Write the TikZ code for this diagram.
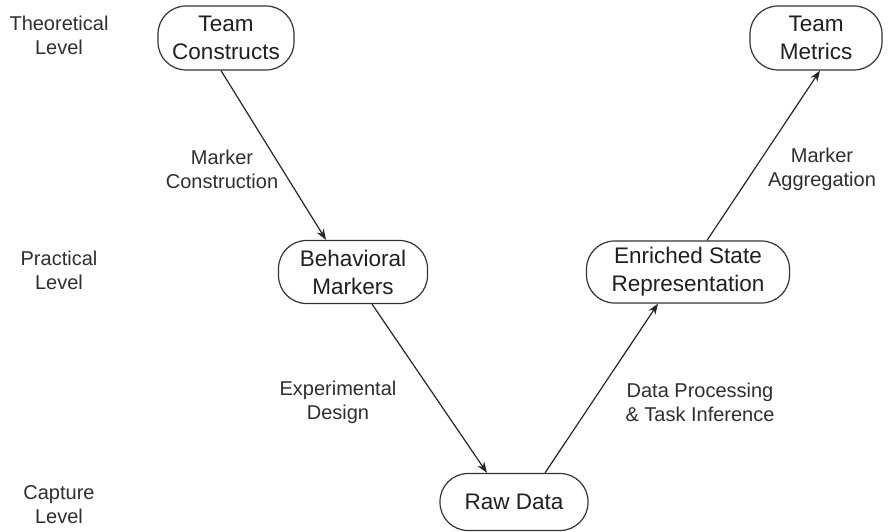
\documentclass[tikz,border=0pt]{standalone}
\usepackage{fontspec}
\setmainfont{Liberation Sans}
\usetikzlibrary{arrows.meta}
\usetikzlibrary{positioning}

\begin{document}
\begin{tikzpicture}[x=1pt,y=-1pt,
    stage/.style={draw=black!80, line width=1.2pt, rounded corners=28pt,
                  align=center, inner sep=0pt, text=black!88,
                  font=\fontsize{22.5}{28}\selectfont},
    note/.style={align=center, text=black!82, font=\fontsize{20}{24}\selectfont},
    flow/.style={draw=black!85, line width=1.2pt, -{Stealth[length=11pt,width=8pt]}}]
	\useasboundingbox (0,0) rectangle (888,532);

	% levels down the left side
	\node[note] (theory) at (59,35) {Theoretical\\Level};
	\node[note] (practice) at (59,270) {Practical\\Level};
	\node[note] (capture) at (59,505) {Capture\\Level};

	% the V of stages
	\node[stage, minimum width=136pt, minimum height=64pt] (tc) at (226,38) {Team\\Constructs};
	\node[stage, minimum width=132pt, minimum height=64pt] (tm) at (816,38) {Team\\Metrics};
	\node[stage, minimum width=149pt, minimum height=63pt] (bm) at (353,272) {Behavioral\\Markers};
	\node[stage, minimum width=203pt, minimum height=62pt] (es) at (688,272) {Enriched State\\Representation};
	\node[stage, minimum width=148pt, minimum height=57pt] (rd) at (514,502) {Raw Data};

	\draw[flow] ([xshift=-5pt]tc.south) -- ([xshift=-27pt]bm.north);
	\draw[flow] ([xshift=19pt]bm.south) -- ([xshift=-27pt]rd.north);
	\draw[flow] ([xshift=31pt]rd.north) -- ([xshift=-30pt]es.south);
	\draw[flow] ([xshift=19pt]es.north) -- ([xshift=4pt]tm.south);

	% what each step does
	\node[note] (construct) at (222,169) {Marker\\Construction};
	\node[note] (design) at (338,402) {Experimental\\Design};
	\node[note] (process) at (700,402) {Data Processing\\\& Task Inference};
	\node[note] (aggregate) at (822,169) {Marker\\Aggregation};
\end{tikzpicture}
\end{document}
